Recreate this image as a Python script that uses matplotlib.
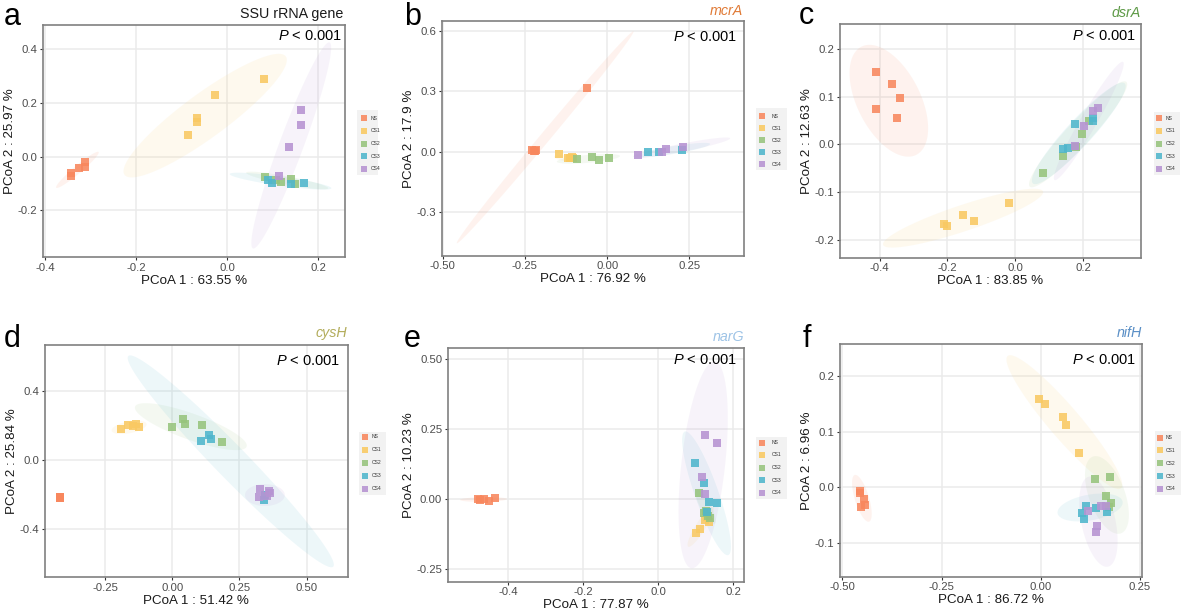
import numpy as np
import matplotlib
matplotlib.use('Agg')
import matplotlib.pyplot as plt
from matplotlib.patches import Rectangle

plt.rcParams['font.family'] = ['Liberation Sans', 'DejaVu Sans']
plt.rcParams['mathtext.fontset'] = 'custom'
plt.rcParams['mathtext.rm'] = 'Liberation Sans'
plt.rcParams['mathtext.it'] = 'Liberation Sans:italic'

# ---------------- data ----------------
groups = ['NS', 'CS1', 'CS2', 'CS3', 'CS4']
group_colors = ['#F8875D', '#F9C962', '#97C47D', '#4FB6CC', '#B693D2']

panel_letters = ['a', 'b', 'c', 'd', 'e', 'f']
panel_titles = ['SSU rRNA gene', 'mcrA', 'dsrA', 'cysH', 'narG', 'nifH']
p_text = ['P < 0.001'] * 6
x_labels = ['PCoA 1 : 63.55 %', 'PCoA 1 : 76.92 %', 'PCoA 1 : 83.85 %',
            'PCoA 1 : 51.42 %', 'PCoA 1 : 77.87 %', 'PCoA 1 : 86.72 %']
y_labels = ['PCoA 2 : 25.97 %', 'PCoA 2 : 17.9 %', 'PCoA 2 : 12.63 %',
            'PCoA 2 : 25.84 %', 'PCoA 2 : 10.23 %', 'PCoA 2 : 6.96 %']

# panel a
a_x = [[-0.342, -0.343, -0.325, -0.312, -0.312],
       [0.081, -0.027, -0.067, -0.066, -0.086],
       [0.084, 0.108, 0.119, 0.140, 0.150],
       [0.090, 0.099, 0.141, 0.169],
       [0.162, 0.163, 0.135, 0.114]]
a_y = [[-0.071, -0.062, -0.041, -0.037, -0.019],
       [0.288, 0.231, 0.143, 0.130, 0.081],
       [-0.077, -0.088, -0.093, -0.083, -0.103],
       [-0.087, -0.097, -0.103, -0.099],
       [0.174, 0.119, 0.035, -0.072]]
# panel b
b_x = [[-0.229, -0.222, -0.218, -0.216, -0.062],
       [-0.145, -0.120, -0.113, -0.108, -0.103],
       [-0.092, -0.047, -0.024, 0.006],
       [0.125, 0.158, 0.226],
       [0.095, 0.168, 0.178, 0.232]]
b_y = [[0.008, 0.004, 0.003, 0.006, 0.314],
       [-0.012, -0.030, -0.031, -0.029, -0.032],
       [-0.039, -0.029, -0.044, -0.030],
       [-0.004, -0.004, 0.008],
       [-0.017, 0.000, 0.011, 0.024]]
# panel c
c_x = [[-0.410, -0.363, -0.341, -0.410, -0.348],
       [-0.211, -0.201, -0.154, -0.123, -0.018],
       [0.083, 0.140, 0.178, 0.198, 0.219],
       [0.175, 0.142, 0.155, 0.230, 0.228],
       [0.243, 0.228, 0.204, 0.175]]
c_y = [[0.152, 0.127, 0.097, 0.075, 0.055],
       [-0.167, -0.171, -0.149, -0.162, -0.124],
       [-0.061, -0.024, -0.005, 0.021, 0.048],
       [0.043, -0.010, -0.007, 0.056, 0.048],
       [0.076, 0.070, 0.039, -0.003]]
# panel d
d_x = [[-0.418, -0.417, -0.416, -0.417, -0.418],
       [-0.192, -0.163, -0.145, -0.135, -0.124],
       [0.000, 0.039, 0.049, 0.111, 0.186],
       [0.108, 0.138, 0.143, 0.343, 0.346],
       [0.326, 0.361, 0.324, 0.354, 0.364]]
d_y = [[-0.215, -0.218, -0.220, -0.214, -0.222],
       [0.179, 0.204, 0.200, 0.210, 0.190],
       [0.194, 0.237, 0.210, 0.204, 0.105],
       [0.111, 0.148, 0.120, -0.233, -0.204],
       [-0.171, -0.179, -0.214, -0.210, -0.190]]
# panel e
e_x = [[-0.482, -0.476, -0.464, -0.452, -0.436],
       [0.102, 0.111, 0.124, 0.136, 0.129],
       [0.110, 0.128, 0.138, 0.122, 0.133],
       [0.098, 0.122, 0.135, 0.156, 0.131],
       [0.126, 0.157, 0.116, 0.124]]
e_y = [[0.000, -0.002, 0.002, -0.005, 0.006],
       [-0.119, -0.107, -0.074, -0.080, -0.064],
       [0.021, -0.042, -0.068, -0.050, -0.060],
       [0.131, 0.057, -0.010, -0.014, -0.044],
       [0.231, 0.202, 0.079, 0.019]]
# panel f
f_x = [[-0.457, -0.455, -0.446, -0.444, -0.454],
       [-0.004, 0.011, 0.056, 0.064, 0.096],
       [0.137, 0.175, 0.164, 0.179, 0.173],
       [0.114, 0.105, 0.110, 0.139, 0.168],
       [0.119, 0.152, 0.166, 0.143, 0.141]]
f_y = [[-0.006, -0.010, -0.022, -0.032, -0.036],
       [0.158, 0.150, 0.126, 0.111, 0.061],
       [0.014, 0.018, -0.015, -0.028, -0.036],
       [-0.034, -0.047, -0.057, -0.037, -0.044],
       [-0.042, -0.034, -0.033, -0.070, -0.080]]

# ellipse ends (major-axis end points, data units) and minor/major ratio, per group
a_ell = [[-0.375, -0.116, -0.282, 0.017, 0.14],
         [-0.225, -0.068, 0.129, 0.373, 0.22],
         [0.042, -0.060, 0.222, -0.118, 0.10],
         [0.006, -0.065, 0.229, -0.118, 0.09],
         [0.057, -0.342, 0.225, 0.425, 0.11]]
b_ell = [[-0.457, -0.455, 0.080, 0.597, 0.036],
         [-0.161, -0.025, -0.082, -0.045, 0.23],
         [-0.153, -0.050, 0.039, -0.022, 0.125],
         [0.080, -0.025, 0.313, 0.038, 0.10],
         [0.090, -0.025, 0.374, 0.066, 0.085]]
c_ell = [[-0.454, 0.205, -0.292, -0.022, 0.52],
         [-0.390, -0.211, 0.082, -0.099, 0.155],
         [0.043, -0.089, 0.328, 0.131, 0.17],
         [0.052, -0.082, 0.323, 0.128, 0.19],
         [0.116, -0.075, 0.318, 0.173, 0.12]]
d_ell = [[-0.421, -0.221, -0.413, -0.213, 0.6],
         [-0.225, 0.171, -0.095, 0.210, 0.33],
         [-0.138, 0.311, 0.277, 0.078, 0.22],
         [-0.163, 0.606, 0.599, -0.621, 0.11],
         [0.271, -0.204, 0.419, -0.204, 0.55]]
e_ell = [[-0.529, -0.002, -0.404, 0.001, 0.10],
         [0.080, -0.169, 0.147, -0.026, 0.21],
         [0.102, 0.033, 0.151, -0.086, 0.26],
         [0.071, 0.242, 0.187, -0.199, 0.18],
         [0.089, -0.246, 0.151, 0.492, 0.21]]
f_ell = [[-0.469, 0.022, -0.433, -0.062, 0.29],
         [-0.083, 0.236, 0.203, -0.002, 0.18],
         [0.132, 0.055, 0.203, -0.083, 0.44],
         [0.043, -0.047, 0.207, -0.026, 0.39],
         [0.122, 0.019, 0.170, -0.143, 0.37]]

# ticks
a_xt, a_xtl = [-0.4, -0.2, 0.0, 0.2], ['-0.4', '-0.2', '0.0', '0.2']
a_yt, a_ytl = [-0.2, 0.0, 0.2, 0.4], ['-0.2', '0.0', '0.2', '0.4']
b_xt, b_xtl = [-0.5, -0.25, 0.0, 0.25], ['-0.50', '-0.25', '0.00', '0.25']
b_yt, b_ytl = [-0.3, 0.0, 0.3, 0.6], ['-0.3', '0.0', '0.3', '0.6']
c_xt, c_xtl = [-0.4, -0.2, 0.0, 0.2], ['-0.4', '-0.2', '0.0', '0.2']
c_yt, c_ytl = [-0.2, -0.1, 0.0, 0.1, 0.2], ['-0.2', '-0.1', '0.0', '0.1', '0.2']
d_xt, d_xtl = [-0.25, 0.0, 0.25, 0.5], ['-0.25', '0.00', '0.25', '0.50']
d_yt, d_ytl = [-0.4, 0.0, 0.4], ['-0.4', '0.0', '0.4']
e_xt, e_xtl = [-0.4, -0.2, 0.0, 0.2], ['-0.4', '-0.2', '0.0', '0.2']
e_yt, e_ytl = [-0.25, 0.0, 0.25, 0.5], ['-0.25', '0.00', '0.25', '0.50']
f_xt, f_xtl = [-0.5, -0.25, 0.0, 0.25], ['-0.50', '-0.25', '0.00', '0.25']
f_yt, f_ytl = [-0.1, 0.0, 0.1, 0.2], ['-0.1', '0.0', '0.1', '0.2']

# ---------------- layout (pixels) ----------------
W, H = 1193, 614
axes_px = [(43, 345, 25, 257), (441.7, 744, 21.3, 255.7), (839.7, 1141.3, 24.3, 257.7),
           (45, 347.7, 345, 577.3), (447.7, 744, 348.3, 581.7), (839.7, 1142, 344.3, 576.7)]
xlims = [(-0.404, 0.259), (-0.503, 0.416), (-0.518, 0.372),
         (-0.473, 0.653), (-0.562, 0.229), (-0.507, 0.256)]
ylims = [(-0.374, 0.49), (-0.517, 0.647), (-0.238, 0.252),
         (-0.683, 0.670), (-0.294, 0.539), (-0.161, 0.257)]
title_pos = [(343, 14), (743, 11), (1141, 13), (347, 333), (744, 337), (1142, 333)]
title_colors = ['#1A1A1A', '#E07A36', '#5E9A47', '#B3AD5C', '#9DC3E6', '#5A8FC6']
title_italic = [False, True, True, True, True, True]
p_pos = [(342, 36), (737, 37), (1136, 36), (340, 361), (737, 360), (1136, 360)]
letter_pos = [(4, 25), (404, 25), (799, 24), (4, 347), (404, 347), (803, 347)]
leg_box = [(357, 110, 378, 175), (756, 108, 787, 170), (1154, 112, 1180, 175),
           (359, 432, 386, 495), (756, 437, 787, 499), (1155, 431, 1181, 495)]
leg_row0 = [118, 116, 118, 437, 442.5, 437.5]
leg_dy = [12.75, 12.0, 12.75, 12.9, 12.5, 12.85]
leg_keyx = [363.5, 762, 1159, 365, 762, 1160]
leg_textx = [371, 771.5, 1165.5, 371.5, 771.5, 1166]

fig = plt.figure(figsize=(W / 100, H / 100), dpi=100)
fig.patch.set_facecolor('white')


def fx(x):
    return x / W


def fy(y):
    return 1 - y / H


def draw_ellipse(ax, x1, y1, x2, y2, ratio, color):
    T = ax.transData
    p1 = np.array(T.transform((x1, y1)))
    p2 = np.array(T.transform((x2, y2)))
    c = (p1 + p2) / 2
    u = (p2 - p1) / 2
    n = np.array([-u[1], u[0]]) * ratio
    t = np.linspace(0, 2 * np.pi, 240)
    pts = c + np.outer(np.cos(t), u) + np.outer(np.sin(t), n)
    d = T.inverted().transform(pts)
    ax.fill(d[:, 0], d[:, 1], color=color, alpha=0.10, lw=0, zorder=1)


xs = [a_x, b_x, c_x, d_x, e_x, f_x]
ys = [a_y, b_y, c_y, d_y, e_y, f_y]
ells = [a_ell, b_ell, c_ell, d_ell, e_ell, f_ell]
xts = [(a_xt, a_xtl), (b_xt, b_xtl), (c_xt, c_xtl), (d_xt, d_xtl), (e_xt, e_xtl), (f_xt, f_xtl)]
yts = [(a_yt, a_ytl), (b_yt, b_ytl), (c_yt, c_ytl), (d_yt, d_ytl), (e_yt, e_ytl), (f_yt, f_ytl)]

for i in range(6):
    l, r, t, b = axes_px[i]
    ax = fig.add_axes([fx(l), fy(b), (r - l) / W, (b - t) / H])
    ax.set_xlim(*xlims[i])
    ax.set_ylim(*ylims[i])
    ax.set_xticks(xts[i][0])
    ax.set_xticklabels(xts[i][1])
    ax.set_yticks(yts[i][0])
    ax.set_yticklabels(yts[i][1])
    ax.grid(True, color='#EBEBEB', lw=1.1, zorder=0)
    ax.set_axisbelow(True)
    for sp in ax.spines.values():
        sp.set_color('#808080')
        sp.set_linewidth(1.2)
    ax.tick_params(axis='both', colors='#333333', labelcolor='#4D4D4D',
                   labelsize=8.2, length=2.5, width=0.8, pad=1.5)
    ax.set_xlabel(x_labels[i], fontsize=9.6, color='#1A1A1A', labelpad=1.5)
    ax.set_ylabel(y_labels[i], fontsize=9.6, color='#1A1A1A', labelpad=1)

    for g in range(5):
        e = ells[i][g]
        draw_ellipse(ax, e[0], e[1], e[2], e[3], e[4], group_colors[g])
    for g in range(5):
        ax.scatter(xs[i][g], ys[i][g], marker='s', s=30, color=group_colors[g],
                   alpha=0.88, linewidths=0, zorder=3)

    # texts
    fig.text(fx(letter_pos[i][0]), fy(letter_pos[i][1]), panel_letters[i],
             fontsize=22, color='black', ha='left', va='baseline')
    fig.text(fx(title_pos[i][0]), fy(title_pos[i][1]), panel_titles[i],
             fontsize=10.3, color=title_colors[i], ha='right', va='center',
             style='italic' if title_italic[i] else 'normal')
    ptxt = p_text[i].replace('P', r'$P$', 1)
    fig.text(fx(p_pos[i][0]), fy(p_pos[i][1]), ptxt, fontsize=10.5,
             color='black', ha='right', va='center')

    # legend
    x0, y0, x1, y1 = leg_box[i]
    fig.add_artist(Rectangle((fx(x0), fy(y1)), (x1 - x0) / W, (y1 - y0) / H,
                             transform=fig.transFigure, facecolor='#F2F2F2',
                             edgecolor='none'))
    ks = 6.0
    for g in range(5):
        yc = leg_row0[i] + g * leg_dy[i]
        fig.add_artist(Rectangle((fx(leg_keyx[i] - ks / 2), fy(yc + ks / 2)), ks / W, ks / H,
                                 transform=fig.transFigure, facecolor=group_colors[g],
                                 alpha=0.88, edgecolor='none'))
        fig.text(fx(leg_textx[i]), fy(yc), groups[g], fontsize=3.6,
                 color='#333333', ha='left', va='center')

fig.savefig('out.png', dpi=100)
